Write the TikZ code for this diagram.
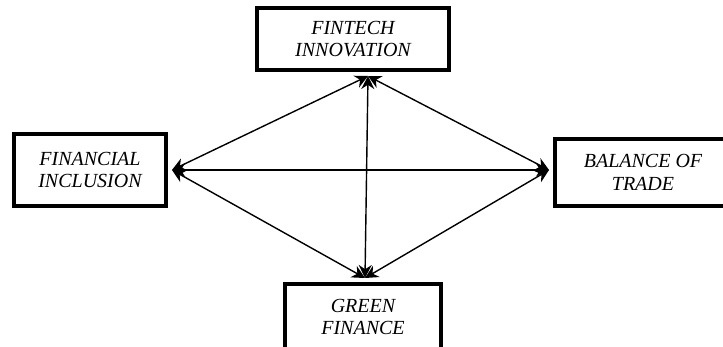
\documentclass[tikz,border=0pt]{standalone}
\usepackage{fontspec}
\setmainfont{Liberation Serif}
\usetikzlibrary{positioning,calc,arrows.meta}

\begin{document}
\begin{tikzpicture}[x=1pt,y=-1pt,
  varbox/.style={draw,line width=4pt,align=center,inner sep=0pt,
    font=\fontsize{20}{22.5}\selectfont\itshape},
  link/.style={arrows={Stealth[length=13pt,width=13pt]-Stealth[length=13pt,width=13pt]},line width=1.4pt}]
  \useasboundingbox (0,0) rectangle (723,347);
  % the four boxes
  \node[varbox,minimum width=192pt,minimum height=62pt] (fintech) at (353,39) {FINTECH\\INNOVATION};
  \node[varbox,minimum width=152pt,minimum height=72pt] (inclusion) at (90,170) {FINANCIAL\\INCLUSION};
  \node[varbox,minimum width=176pt,minimum height=67pt] (trade) at (643,172.5) {BALANCE OF\\TRADE};
  \node[varbox,minimum width=156pt,minimum height=66pt] (green) at (363,317) {GREEN\\FINANCE};
  % where the arrows meet the boxes
  \coordinate (ft) at (368,76);
  \coordinate (fi) at (172,170);
  \coordinate (bt) at (549,170);
  \coordinate (gf) at (365,278);
  \draw[link] (ft) -- (fi);
  \draw[link] (ft) -- (bt);
  \draw[link] (ft) -- (gf);
  \draw[link] (fi) -- (bt);
  \draw[link] (fi) -- (gf);
  \draw[link] (bt) -- (gf);
\end{tikzpicture}
\end{document}
